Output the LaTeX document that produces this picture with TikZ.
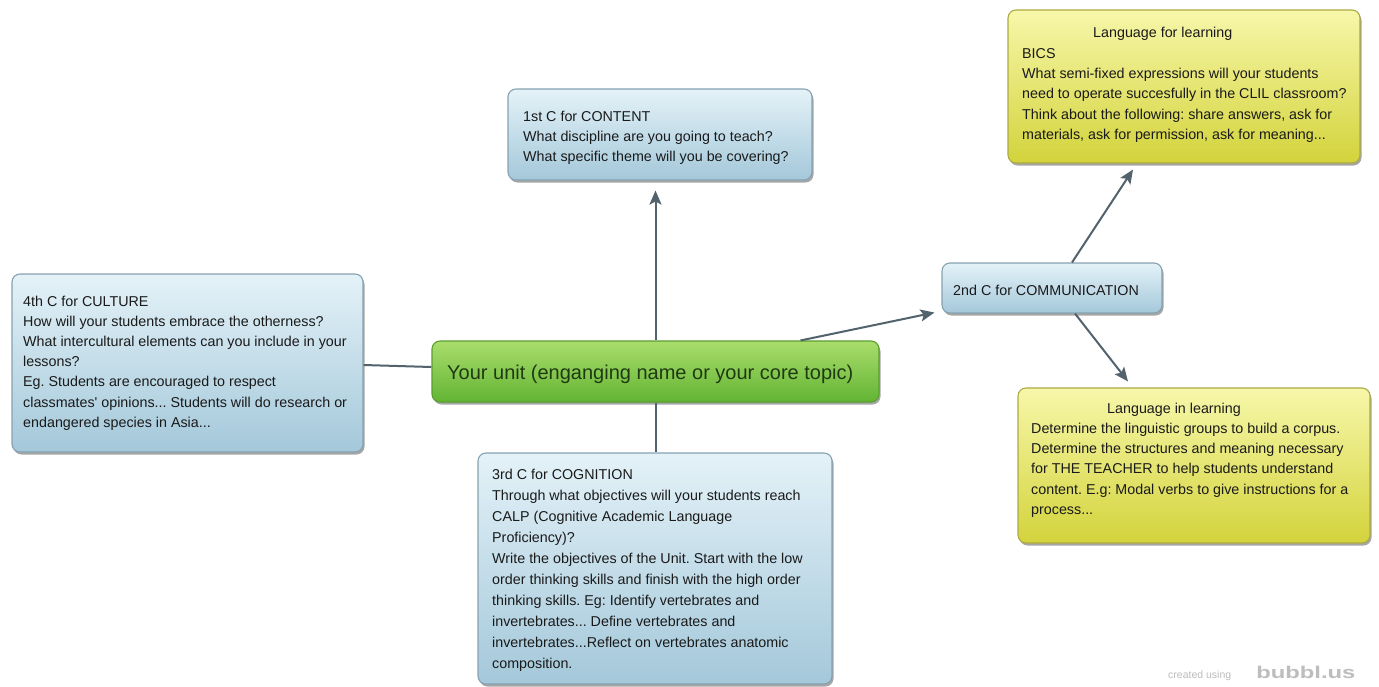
\documentclass[tikz,border=0pt]{standalone}
\usepackage{fontspec}
\setmainfont{Liberation Sans}
\usetikzlibrary{shadows,calc,arrows.meta}
\definecolor{bluetop}{HTML}{E4F2F8}
\definecolor{bluebot}{HTML}{A4C8DA}
\definecolor{bluedraw}{HTML}{86A2B0}
\definecolor{greentop}{HTML}{AADD6C}
\definecolor{greenbot}{HTML}{62B434}
\definecolor{greendraw}{HTML}{5A9E2E}
\definecolor{yeltop}{HTML}{F7F7AA}
\definecolor{yelbot}{HTML}{D3D33C}
\definecolor{yeldraw}{HTML}{ACAA42}
\definecolor{linec}{HTML}{52636E}
\definecolor{textc}{HTML}{1A1A1A}
\definecolor{greentext}{HTML}{1F3A12}
\definecolor{wmark}{HTML}{BDBDBD}
\tikzset{
  bubble/.style={rounded corners=8pt, line width=1.1pt, inner sep=0pt,
    drop shadow={shadow xshift=1.5pt, shadow yshift=-2.5pt, opacity=0.35, fill=black}},
  bluebox/.style={bubble, draw=bluedraw, top color=bluetop, bottom color=bluebot},
  greenbox/.style={bubble, draw=greendraw, top color=greentop, bottom color=greenbot},
  yelbox/.style={bubble, draw=yeldraw, top color=yeltop, bottom color=yelbot},
  txt/.style={align=left, inner sep=0pt, text=textc, font=\fontsize{14.3}{20.2}\selectfont},
  conn/.style={draw=linec, line width=2pt},
  arr/.style={conn, -{Stealth[length=14pt, width=12pt, inset=3pt]}}
}
\begin{document}
\frenchspacing
\begin{tikzpicture}[x=1pt, y=-1pt]
\useasboundingbox (0,0) rectangle (1379,686);
\fill[white] (0,0) rectangle (1379,686);

% boxes
\node[bluebox, minimum width=304, minimum height=91] (content) at (660,134.5) {};
\node[bluebox, minimum width=351, minimum height=178] (culture) at (187.5,363) {};
\node[greenbox, minimum width=447, minimum height=61] (center) at (655.5,371.5) {};
\node[bluebox, minimum width=354, minimum height=231] (cognition) at (655,568.5) {};
\node[bluebox, minimum width=220, minimum height=50] (comm) at (1052,288) {};
\node[yelbox, minimum width=352, minimum height=153] (lfl) at (1184,86.5) {};
\node[yelbox, minimum width=352, minimum height=155] (lil) at (1194,465.5) {};

% connectors
\draw[arr] (center.north) -- ($(center.north |- content.south)+(0,10)$);
\draw[conn] ($(culture.east)+(0,2)$) -- ($(center.west)+(0,-4.5)$);
\draw[conn] (center.south) -- (center.south |- cognition.north);
\draw[arr] ($(center.north east)+(-79,0)$) -- ($(comm.south west)+(-7,-1)$);
\draw[arr] ($(comm.north)+(20,0)$) -- ($(lfl.south)+(-51,6)$);
\draw[arr] ($(comm.south)+(23,0)$) -- ($(lil.north)+(-66,-6)$);

% texts
\node[txt, anchor=west] (contentT) at (523,138)
  {1st C for CONTENT\\What discipline are you going to teach?\\What specific theme will you be covering?};
\node[txt, anchor=west] (cultureT) at (23,363)
  {4th C for CULTURE\\How will your students embrace the otherness?\\What intercultural elements can you include in your\\lessons?\\Eg. Students are encouraged to respect\\classmates\textquotesingle{} opinions... Students will do research or\\endangered species in Asia...};
\node[txt, anchor=base west, text=greentext, font=\fontsize{20}{24}\selectfont] (centerT) at (447,379)
  {Your unit (enganging name or your core topic)};
\node[txt, anchor=west, font=\fontsize{14.3}{21}\selectfont] (cognitionT) at (492,570)
  {3rd C for COGNITION\\Through what objectives will your students reach\\CALP (Cognitive Academic Language\\Proficiency)?\\Write the objectives of the Unit. Start with the low\\order thinking skills and finish with the high order\\thinking skills. Eg: Identify vertebrates and\\invertebrates... Define vertebrates and\\invertebrates...Reflect on vertebrates anatomic\\composition.};
\node[txt, anchor=base west] (commT) at (953,295) {2nd C for COMMUNICATION};
\node[txt, anchor=west, font=\fontsize{14.3}{20.4}\selectfont] (lflT) at (1022,85)
  {\hspace*{71pt}Language for learning\\BICS\\What semi-fixed expressions will your students\\need to operate succesfully in the CLIL classroom?\\Think about the following: share answers, ask for\\materials, ask for permission, ask for meaning...};
\node[txt, anchor=west] (lilT) at (1031,460)
  {\hspace*{76pt}Language in learning\\Determine the linguistic groups to build a corpus.\\Determine the structures and meaning necessary\\for THE TEACHER to help students understand\\content. E.g: Modal verbs to give instructions for a\\process...};

% watermark
\node[anchor=base west, inner sep=0pt, text=wmark, font=\fontsize{10.5}{12}\selectfont] (wm1) at (1168,678) {created using};
\node[anchor=base west, inner sep=0pt, text=wmark, font=\bfseries\fontsize{17}{20}\selectfont, xscale=1.4, transform shape] (wm2) at (1256,678) {bubbl.us};
\end{tikzpicture}
\end{document}
